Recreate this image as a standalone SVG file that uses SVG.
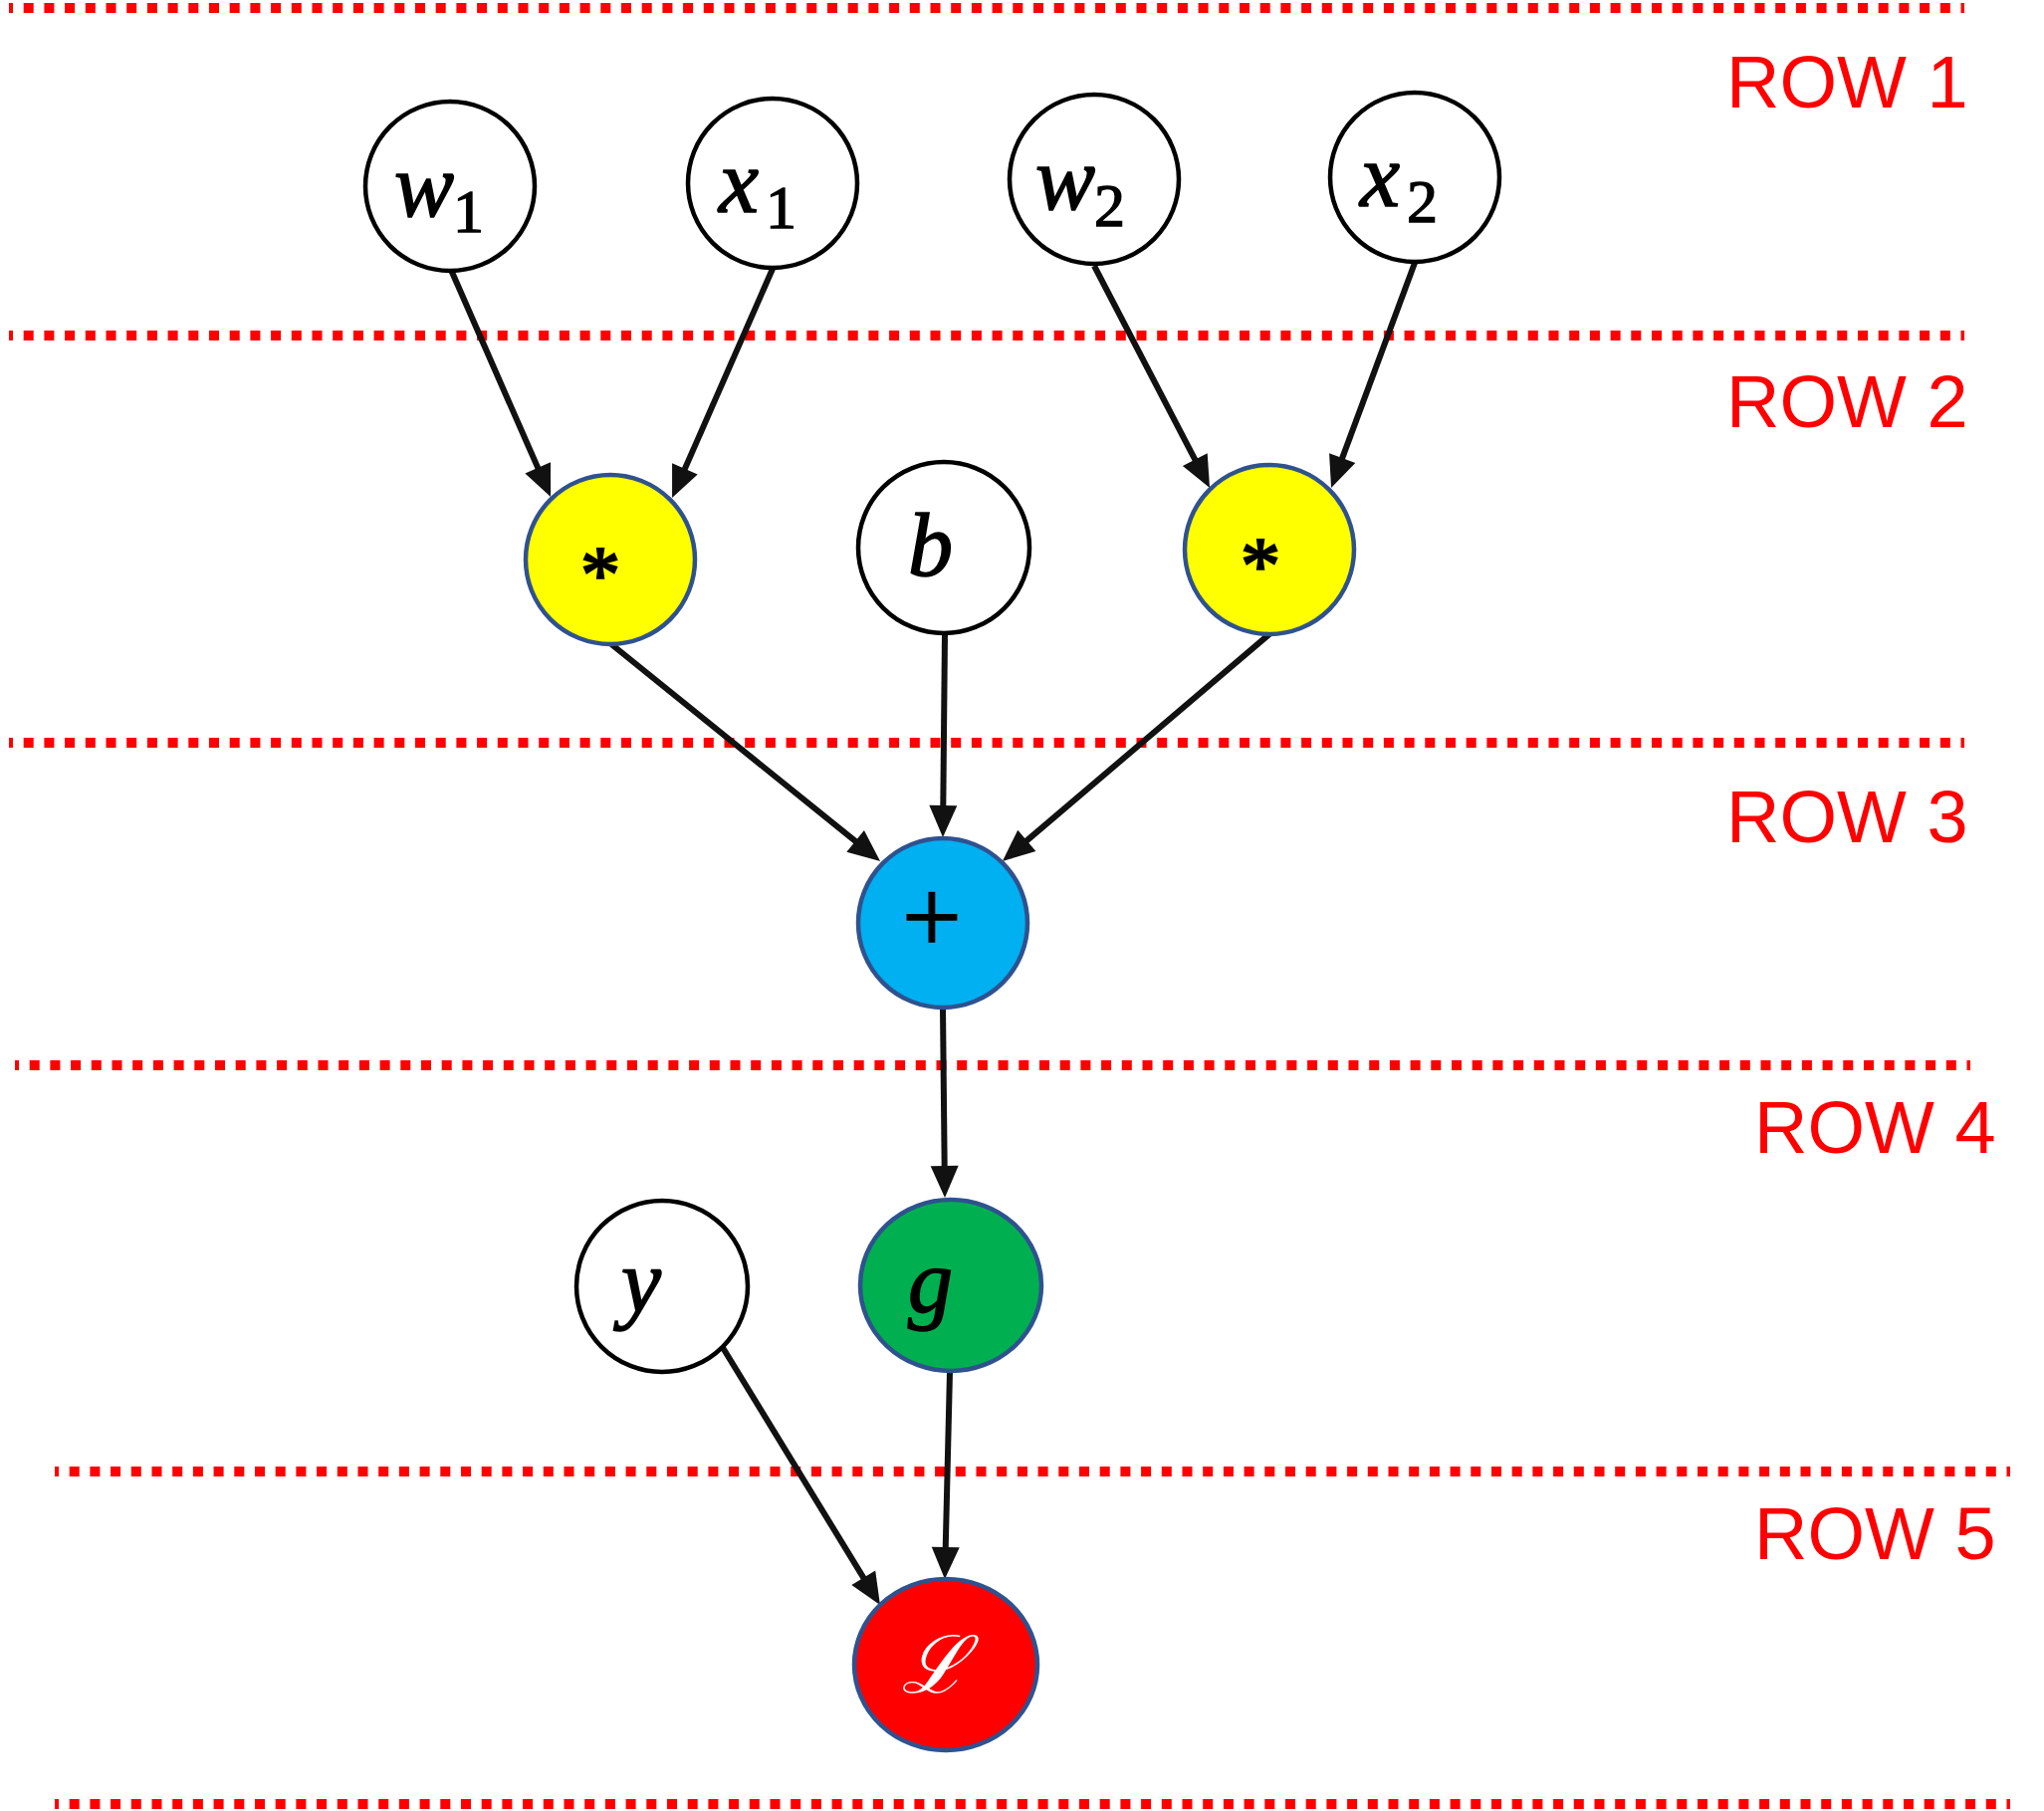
<svg xmlns="http://www.w3.org/2000/svg" width="2053" height="1819" viewBox="0 0 2053 1819">
<style>
.row{stroke:#FF0000;stroke-width:10;stroke-dasharray:10 10.7;fill:none}
.lbl{font-family:"Liberation Sans",Arial,sans-serif;font-size:74px;fill:#FF0000}
.plain{fill:#FFFFFF;stroke:#000000;stroke-width:4.5}
.op{stroke:#2F528F;stroke-width:4.5}
.m{font-family:"Liberation Serif","DejaVu Serif",serif;font-style:italic;font-size:90px;fill:#000000;stroke:#000000;stroke-width:1.6}
.sub{font-style:normal;font-size:62px;stroke-width:1.4}
.ast{font-family:"Liberation Serif",serif;font-size:80px;fill:#000000;stroke:#000000;stroke-width:2.2}
.edge{stroke:#111111;stroke-width:6;fill:none;marker-end:url(#ah)}
</style>
<defs>
<marker id="ah" markerUnits="userSpaceOnUse" markerWidth="34" markerHeight="30" refX="2" refY="15" orient="auto" overflow="visible">
<path d="M0,1 L32,15 L0,29 Z" fill="#111111"/>
</marker>
</defs>
<rect width="2053" height="1819" fill="#FFFFFF"/>
<g id="row-lines">
<line class="row" x1="9" y1="8" x2="1973" y2="8" stroke-dashoffset="6"/>
<line class="row" x1="9" y1="337" x2="1973" y2="337" stroke-dashoffset="6"/>
<line class="row" x1="9" y1="746" x2="1973" y2="746" stroke-dashoffset="6"/>
<line class="row" x1="15" y1="1070" x2="1979" y2="1070" stroke-dashoffset="6"/>
<line class="row" x1="55" y1="1478" x2="2019" y2="1478" stroke-dashoffset="6"/>
<line class="row" x1="55" y1="1812" x2="2019" y2="1812" stroke-dashoffset="6"/>
</g>
<g id="row-labels">
<text class="lbl" x="1734" y="108">ROW 1</text>
<text class="lbl" x="1734" y="429">ROW 2</text>
<text class="lbl" x="1734" y="846">ROW 3</text>
<text class="lbl" x="1762" y="1158">ROW 4</text>
<text class="lbl" x="1762" y="1566">ROW 5</text>
</g>
<g id="connectors">
<line class="edge" x1="453" y1="271" x2="541.0" y2="471.6"/>
<line class="edge" x1="776" y1="270" x2="687.1" y2="472.6"/>
<line class="edge" x1="1099" y1="267" x2="1201.2" y2="463.4"/>
<line class="edge" x1="1421" y1="264" x2="1347.5" y2="461.9"/>
<line class="edge" x1="614" y1="647" x2="860.7" y2="846.2"/>
<line class="edge" x1="949" y1="637" x2="947.3" y2="811"/>
<line class="edge" x1="1275" y1="637" x2="1029.8" y2="845.6"/>
<line class="edge" x1="947" y1="1013" x2="948.7" y2="1173"/>
<line class="edge" x1="954" y1="1378" x2="949.7" y2="1556"/>
<line class="edge" x1="725" y1="1352" x2="868.3" y2="1586.4"/>
</g>
<g id="node-w1">
<circle class="plain" cx="452" cy="187" r="85"/>
<text class="m" x="396" y="217">w<tspan class="sub" x="455" y="233">1</tspan></text>
</g>
<g id="node-x1">
<circle class="plain" cx="776" cy="184" r="85"/>
<text class="m" x="722" y="213">x<tspan class="sub" x="769" y="229">1</tspan></text>
</g>
<g id="node-w2">
<circle class="plain" cx="1099" cy="180" r="85"/>
<text class="m" x="1040" y="210">w<tspan class="sub" x="1099" y="227">2</tspan></text>
</g>
<g id="node-x2">
<circle class="plain" cx="1421" cy="178" r="85"/>
<text class="m" x="1366" y="207">x<tspan class="sub" x="1413" y="223">2</tspan></text>
</g>
<g id="node-mul1">
<circle class="op" fill="#FFFF00" cx="613" cy="562" r="85"/>
<text class="ast" x="603" y="604" text-anchor="middle">*</text>
</g>
<g id="node-b">
<circle class="plain" cx="948" cy="550" r="86"/>
<text class="m" x="912" y="578">b</text>
</g>
<g id="node-mul2">
<circle class="op" fill="#FFFF00" cx="1275" cy="552" r="85"/>
<text class="ast" x="1266" y="595" text-anchor="middle">*</text>
</g>
<g id="node-plus">
<circle class="op" fill="#00B0F0" cx="947" cy="927" r="85"/>
<text x="936" y="957" text-anchor="middle" font-family="Liberation Serif,serif" font-size="106" fill="#000000" stroke="#000000" stroke-width="1.5">+</text>
</g>
<g id="node-y">
<circle class="plain" cx="665" cy="1292" r="86"/>
<text class="m" x="624" y="1318">y</text>
</g>
<g id="node-g">
<ellipse class="op" fill="#00B050" cx="955" cy="1291" rx="91" ry="86"/>
<text class="m" x="912" y="1318">g</text>
</g>
<g id="node-L">
<ellipse class="op" fill="#FF0000" cx="950" cy="1672" rx="92" ry="86"/>
<text x="938" y="1700" text-anchor="middle" font-family="DejaVu Serif,serif" font-style="italic" font-size="80" fill="#FFFFFF">ℒ</text>
</g>
</svg>
